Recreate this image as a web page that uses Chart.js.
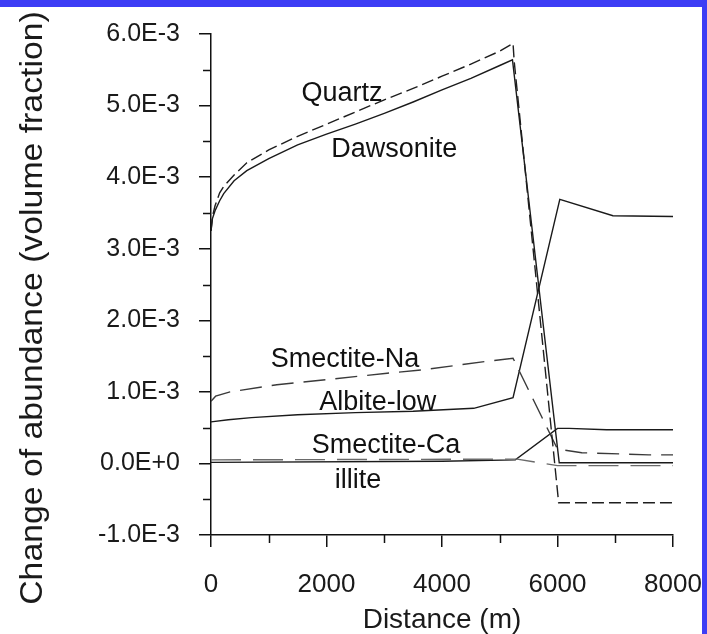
<!DOCTYPE html>
<html>
<head>
<meta charset="utf-8">
<script src="https://cdn.jsdelivr.net/npm/chart.js@4"></script>
<style>
  body { margin: 0; background: #fff; }
  #wrap { position: relative; width: 707px; height: 634px; overflow: hidden; }
  #wrap canvas { position: absolute; left: 0; top: 0; }
  .edge { position: absolute; background: #3d3df5; }
  .edge.top { left: 0; top: 0; width: 707px; height: 7px; }
  .edge.right { right: 0; top: 0; width: 5px; height: 634px; }
</style>
</head>
<body>
<div id="wrap">
  <canvas id="myChart" width="707" height="634"></canvas>
  <div class="edge top"></div>
  <div class="edge right"></div>
</div>
<script>
// distance (m) and change of abundance (volume fraction) for each mineral
var quartzX = [0, 25, 70, 150, 220, 400, 620, 1000, 1500, 2000, 2500, 3000, 3500, 4000, 4500, 5000, 5230, 5250, 6020, 8000];
var quartzY = [3.25e-3, 3.45e-3, 3.60e-3, 3.78e-3, 3.87e-3, 4.03e-3, 4.20e-3, 4.38e-3, 4.57e-3, 4.74e-3, 4.91e-3, 5.08e-3, 5.24e-3, 5.41e-3, 5.58e-3, 5.76e-3, 5.87e-3, 5.62e-3, -0.55e-3, -0.55e-3];

var dawsoniteX = [0, 25, 70, 150, 220, 400, 620, 1000, 1500, 2000, 2500, 3000, 3500, 4000, 4500, 5000, 5220, 6030, 8000];
var dawsoniteY = [3.25e-3, 3.42e-3, 3.53e-3, 3.67e-3, 3.77e-3, 3.95e-3, 4.09e-3, 4.26e-3, 4.45e-3, 4.60e-3, 4.74e-3, 4.89e-3, 5.05e-3, 5.22e-3, 5.38e-3, 5.56e-3, 5.64e-3, 0.01e-3, 0.01e-3];

var smectiteNaX = [0, 80, 330, 1140, 2000, 3050, 3680, 4810, 5230, 6000, 6420, 7580, 8000];
var smectiteNaY = [0.87e-3, 0.94e-3, 1.00e-3, 1.10e-3, 1.17e-3, 1.26e-3, 1.31e-3, 1.43e-3, 1.47e-3, 0.20e-3, 0.15e-3, 0.12e-3, 0.12e-3];

var albiteX = [0, 300, 700, 1500, 2500, 3500, 4550, 5230, 6040, 6960, 8000];
var albiteY = [0.58e-3, 0.61e-3, 0.64e-3, 0.68e-3, 0.71e-3, 0.73e-3, 0.77e-3, 0.92e-3, 3.69e-3, 3.46e-3, 3.45e-3];

var smectiteCaX = [0, 5300, 6000, 8000];
var smectiteCaY = [0.05e-3, 0.06e-3, -0.03e-3, -0.03e-3];

var illiteX = [0, 4000, 5270, 6000, 6200, 6850, 8000];
var illiteY = [0.015e-3, 0.03e-3, 0.05e-3, 0.49e-3, 0.49e-3, 0.47e-3, 0.47e-3];

// curve names written next to the lines, anchored at (distance, value)
var curveLabels = [
    { text: 'Quartz', x: 2270, y: 5.07e-3 },
    { text: 'Dawsonite', x: 3172, y: 4.28e-3 },
    { text: 'Smectite-Na', x: 2322, y: 1.35e-3 },
    { text: 'Albite-low', x: 2886, y: 0.746e-3 },
    { text: 'Smectite-Ca', x: 3030, y: 0.15e-3 },
    { text: 'illite', x: 2544, y: -0.348e-3 }
];

var xMinorTicks = [1000, 3000, 5000, 7000];
var yMinorTicks = [-0.5e-3, 0.5e-3, 1.5e-3, 2.5e-3, 3.5e-3, 4.5e-3, 5.5e-3];

function points(xs, ys) {
    return xs.map(function (x, i) { return { x: x, y: ys[i] }; });
}

var FONT = "'Liberation Sans', Arial, Helvetica, sans-serif";
Chart.defaults.font.family = FONT;
Chart.defaults.color = '#1a1a1a';

// minor ticks, the rotated y title and the curve names
var extrasPlugin = {
    id: 'extras',
    afterDraw: function (chart) {
        var ctx = chart.ctx;
        var xs = chart.scales.x, ys = chart.scales.y;
        var area = chart.chartArea;
        ctx.save();
        ctx.strokeStyle = '#111';
        ctx.lineWidth = 1.5;
        ctx.beginPath();
        xMinorTicks.forEach(function (v) {
            var px = Math.round(xs.getPixelForValue(v)) + 0.5;
            ctx.moveTo(px, area.bottom);
            ctx.lineTo(px, area.bottom + 8);
        });
        yMinorTicks.forEach(function (v) {
            var py = Math.round(ys.getPixelForValue(v)) + 0.5;
            ctx.moveTo(area.left, py);
            ctx.lineTo(area.left - 8, py);
        });
        ctx.stroke();

        // y axis title
        ctx.save();
        ctx.translate(42, 308);
        ctx.rotate(-Math.PI / 2);
        ctx.scale(1.09, 1);
        ctx.font = '31px ' + FONT;
        ctx.fillStyle = '#1a1a1a';
        ctx.textAlign = 'center';
        ctx.textBaseline = 'alphabetic';
        ctx.fillText('Change of abundance (volume fraction)', 0, 0);
        ctx.restore();

        ctx.font = '27px ' + FONT;
        ctx.fillStyle = '#111';
        ctx.textAlign = 'center';
        ctx.textBaseline = 'alphabetic';
        curveLabels.forEach(function (l) {
            ctx.fillText(l.text, xs.getPixelForValue(l.x), ys.getPixelForValue(l.y));
        });
        ctx.restore();
    }
};

var ctx = document.getElementById('myChart').getContext('2d');
var chart = new Chart(ctx, {
    type: 'line',
    data: {
        datasets: [
            { label: 'Quartz', data: points(quartzX, quartzY), borderColor: '#1e1e1e', borderDash: [12, 5] },
            { label: 'Dawsonite', data: points(dawsoniteX, dawsoniteY), borderColor: '#1a1a1a' },
            { label: 'Smectite-Na', data: points(smectiteNaX, smectiteNaY), borderColor: '#3a3a3a', borderDash: [22, 10] },
            { label: 'Albite-low', data: points(albiteX, albiteY), borderColor: '#1a1a1a' },
            { label: 'Smectite-Ca', data: points(smectiteCaX, smectiteCaY), borderColor: '#6a6a6a', borderDash: [30, 12] },
            { label: 'illite', data: points(illiteX, illiteY), borderColor: '#1a1a1a' }
        ]
    },
    options: {
        responsive: false,
        animation: false,
        elements: {
            point: { radius: 0 },
            line: { borderWidth: 1.4, tension: 0, fill: false }
        },
        layout: { padding: { top: 34, right: 34, left: 0, bottom: 0 } },
        plugins: {
            legend: { display: false },
            tooltip: { enabled: false }
        },
        scales: {
            x: {
                type: 'linear',
                min: 0,
                max: 8000,
                afterFit: function (scale) {
                    scale.height = 99;
                    scale.paddingLeft = 0;
                    scale.paddingRight = 0;
                },
                ticks: {
                    stepSize: 2000,
                    padding: 22,
                    font: { size: 26 },
                    color: '#1a1a1a',
                    callback: function (v) { return String(v); }
                },
                grid: { drawOnChartArea: false, drawTicks: true, tickLength: 12, color: '#111', lineWidth: 1.5 },
                border: { display: true, color: '#111', width: 1.5 },
                title: {
                    display: true,
                    text: 'Distance (m)',
                    font: { size: 28, lineHeight: 1 },
                    padding: 0,
                    color: '#1a1a1a'
                }
            },
            y: {
                type: 'linear',
                min: -1e-3,
                max: 6e-3,
                afterFit: function (scale) {
                    scale.width = 211;
                    scale.paddingTop = 0;
                    scale.paddingBottom = 0;
                },
                ticks: {
                    stepSize: 1e-3,
                    padding: 19,
                    font: { size: 25 },
                    color: '#1a1a1a',
                    callback: function (v) { return Number(v).toExponential(1).replace('e', 'E'); }
                },
                grid: { drawOnChartArea: false, drawTicks: true, tickLength: 12, color: '#111', lineWidth: 1.5 },
                border: { display: true, color: '#111', width: 1.5 }
            }
        }
    },
    plugins: [extrasPlugin]
});
</script>
</body>
</html>
